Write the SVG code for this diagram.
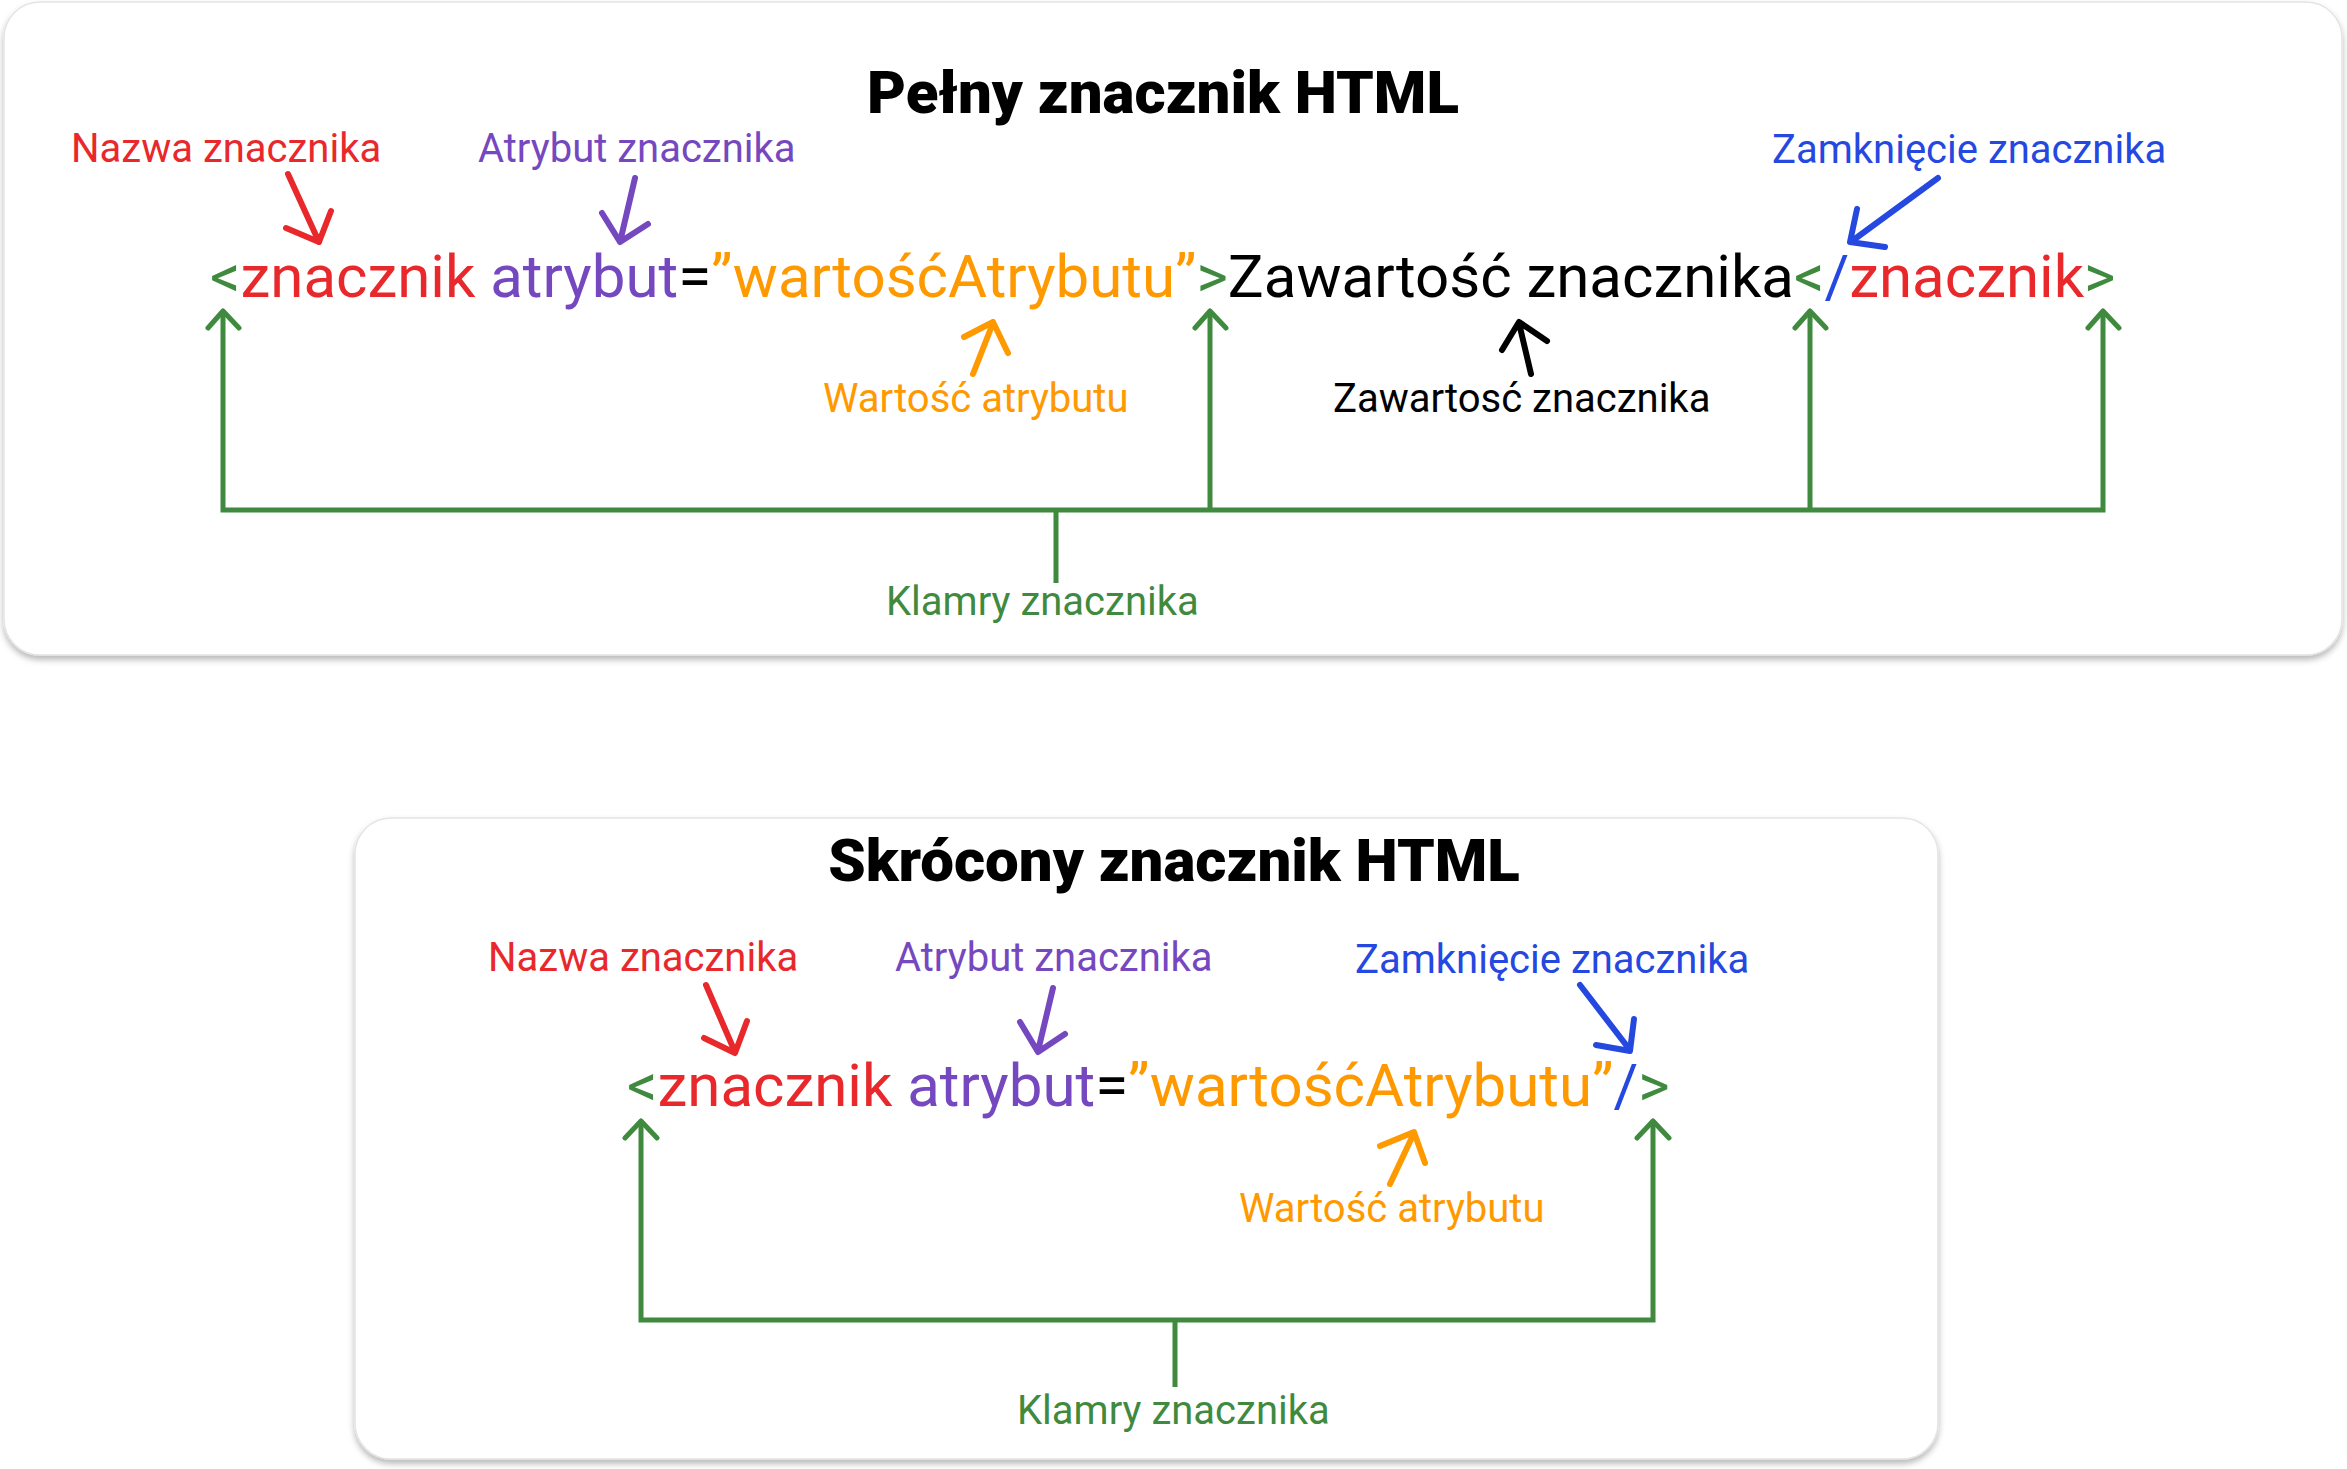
<svg xmlns="http://www.w3.org/2000/svg" width="2347" height="1469" viewBox="0 0 2347 1469">
<defs>
<filter id="sh" x="-5%" y="-5%" width="110%" height="115%">
<feDropShadow dx="0" dy="4" stdDeviation="3" flood-color="#000" flood-opacity="0.28"/>
</filter>
<style>
text{font-family:Roboto,"Liberation Sans",sans-serif}
.title{font-size:60px;font-weight:900;fill:#000}
.code{font-size:60px}
.lbl{font-size:40px}
.r{fill:#E8282B}.p{fill:#7548C0}.o{fill:#FF9900}.g{fill:#3F8A3F}.b{fill:#2448E0}.k{fill:#000}
.ar{fill:none;stroke-width:6;stroke-linecap:round;stroke-linejoin:round}
.gl{fill:none;stroke:#3F8A3F;stroke-width:5}
.gh{fill:none;stroke:#3F8A3F;stroke-width:5;stroke-linecap:round;stroke-linejoin:round}
.card{fill:#fff;stroke:#e4e4e4;stroke-width:1.5}
</style>
</defs>
<rect width="2347" height="1469" fill="#fff"/>
<g id="card-full"><rect class="card" x="4" y="2" width="2338" height="653" rx="36" filter="url(#sh)"/></g>
<g id="card-short"><rect class="card" x="355" y="818" width="1583" height="641" rx="36" filter="url(#sh)"/></g>

<g id="full-tag">
<text class="title" x="1163" y="113" text-anchor="middle">Pełny znacznik HTML</text>
<text class="code" x="210" y="297"><tspan class="g">&lt;</tspan><tspan class="r">znacznik</tspan><tspan class="p"> atrybut</tspan><tspan class="k">=</tspan><tspan class="o">”wartośćAtrybutu”</tspan><tspan class="g">&gt;</tspan><tspan class="k">Zawartość znacznika</tspan><tspan class="g">&lt;</tspan><tspan class="b">/</tspan><tspan class="r">znacznik</tspan><tspan class="g">&gt;</tspan></text>
</g>
<g id="full-lbl-nazwa"><text class="lbl r" x="71" y="162">Nazwa znacznika</text></g>
<g id="full-lbl-atrybut"><text class="lbl p" x="478" y="162">Atrybut znacznika</text></g>
<g id="full-lbl-zamkniecie"><text class="lbl b" x="1772" y="163">Zamknięcie znacznika</text></g>
<g id="full-lbl-wartosc"><text class="lbl o" x="823" y="412">Wartość atrybutu</text></g>
<g id="full-lbl-zawartosc"><text class="lbl k" x="1333" y="412">Zawartosć znacznika</text></g>
<g id="full-lbl-klamry"><text class="lbl g" x="886" y="615">Klamry znacznika</text></g>

<g id="short-tag">
<text class="title" x="1174" y="881" text-anchor="middle">Skrócony znacznik HTML</text>
<text class="code" x="627" y="1106"><tspan class="g">&lt;</tspan><tspan class="r">znacznik</tspan><tspan class="p"> atrybut</tspan><tspan class="k">=</tspan><tspan class="o">”wartośćAtrybutu”</tspan><tspan class="b">/</tspan><tspan class="g">&gt;</tspan></text>
</g>
<g id="short-lbl-nazwa"><text class="lbl r" x="488" y="971">Nazwa znacznika</text></g>
<g id="short-lbl-atrybut"><text class="lbl p" x="895" y="971">Atrybut znacznika</text></g>
<g id="short-lbl-zamkniecie"><text class="lbl b" x="1355" y="973">Zamknięcie znacznika</text></g>
<g id="short-lbl-wartosc"><text class="lbl o" x="1239" y="1222">Wartość atrybutu</text></g>
<g id="short-lbl-klamry"><text class="lbl g" x="1017" y="1424">Klamry znacznika</text></g>

<g id="connectors">
<!-- full: annotation arrows -->
<path class="ar" stroke="#E8282B" d="M288 174 L319 242 M286 228 L319 242 L331 211"/>
<path class="ar" stroke="#7548C0" d="M635 178 L620 242 M602 213 L620 242 L648 224"/>
<path class="ar" stroke="#2448E0" d="M1938 178 L1852 241 M1857 209 L1850 242 L1885 247"/>
<path class="ar" stroke="#FF9900" d="M973 374 L993 323 M964 337 L993 322 L1008 353"/>
<path class="ar" stroke="#000" d="M1531 374 L1519 323 M1502 350 L1519 322 L1547 341"/>
<!-- full: brackets -->
<path class="gl" d="M223 312 V510 H2103 V312 M1210 312 V510 M1810 312 V510 M1056 510 V583"/>
<path class="gh" d="M208 328 L223 311 L239 328 M1195 328 L1210 311 L1226 328 M1795 328 L1810 311 L1826 328 M2088 328 L2103 311 L2119 328"/>
<!-- short: annotation arrows -->
<path class="ar" stroke="#E8282B" d="M706 985 L735 1052 M704 1038 L735 1053 L747 1021"/>
<path class="ar" stroke="#7548C0" d="M1053 988 L1038 1051 M1020 1022 L1038 1052 L1065 1034"/>
<path class="ar" stroke="#2448E0" d="M1580 985 L1630 1050 M1596 1045 L1630 1051 L1634 1019"/>
<path class="ar" stroke="#FF9900" d="M1390 1184 L1414 1133 M1380 1146 L1414 1132 L1425 1163"/>
<!-- short: brackets -->
<path class="gl" d="M641 1122 V1320 H1653 V1122 M1175 1320 V1387"/>
<path class="gh" d="M625 1138 L641 1121 L657 1138 M1637 1138 L1653 1121 L1669 1138"/>
</g>
</svg>
